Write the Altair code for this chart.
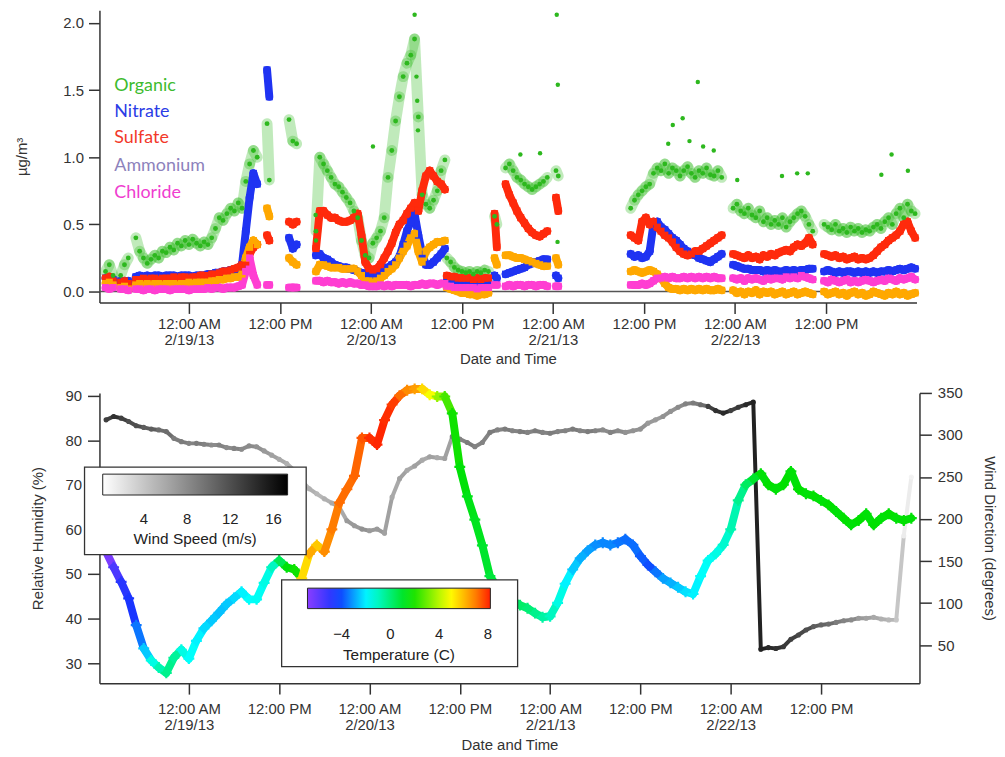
import altair as alt
import pandas as pd

BASE = pd.Timestamp("2013-02-18 00:00:00")


def to_time(hours):
    return BASE + pd.to_timedelta(pd.Series(hours, dtype=float), unit="h")


# ---------------- top panel: aerosol composition (ug/m3) ----------------
# sampling segments (hours after 2/18/13 00:00) - gaps between segments have no data
seg_start = [13.0, 15.0, 17.0, 34.3, 37.2, 40.75, 58.0, 64.3, 65.75, 72.4, 82.25, 95.75, 107.75]
seg_step = [0.5, 0.5, 0.5, 0.3, 0.5, 0.5, 0.5, 0.3, 0.5, 0.3, 0.5, 0.5, 0.5]

organic = [
    [0.15, 0.2, 0.12],
    [0.12, 0.2, 0.25],
    [0.40, 0.30, 0.25, 0.21, 0.24, 0.27, 0.25, 0.30, 0.29, 0.33, 0.31, 0.36, 0.34, 0.38, 0.35, 0.39, 0.36,
     0.34, 0.37, 0.35, 0.40, 0.47, 0.55, 0.53, 0.58, 0.62, 0.60, 0.66, 0.62, 0.82, 0.95, 1.05, 1.00],
    [1.25, 0.83],
    [1.28, 1.12, 1.10],
    [0.45, 1.0, 0.95, 0.9, 0.85, 0.8, 0.78, 0.74, 0.7, 0.66, 0.6, 0.55, 0.38, 0.27, 0.25, 0.36, 0.4, 0.45,
     0.55, 0.85, 1.05, 1.27, 1.45, 1.6, 1.7, 1.76, 1.88, 1.3, 0.72, 0.65, 0.62, 0.68, 0.75, 0.9, 0.98],
    [0.25, 0.22, 0.18, 0.16, 0.15, 0.14, 0.15, 0.13, 0.15, 0.14, 0.16, 0.15],
    [0.56, 0.5],
    [0.92, 0.95, 0.9, 0.85, 0.83, 0.8, 0.78, 0.76, 0.78, 0.8, 0.82, 0.85],
    [0.9, 0.86],
    [0.62, 0.68, 0.72, 0.75, 0.78, 0.8, 0.88, 0.92, 0.9, 0.95, 0.88, 0.92, 0.9, 0.86, 0.9, 0.93, 0.88, 0.85,
     0.9, 0.88, 0.92, 0.87, 0.86, 0.9, 0.85],
    [0.62, 0.65, 0.6, 0.58, 0.62, 0.57, 0.55, 0.6, 0.52, 0.55, 0.5, 0.53, 0.5, 0.55, 0.48, 0.52, 0.55, 0.58,
     0.6, 0.56, 0.5, 0.45],
    [0.5, 0.48, 0.46, 0.5, 0.45, 0.47, 0.44, 0.48, 0.45, 0.47, 0.44, 0.46, 0.45, 0.48, 0.5, 0.47, 0.52, 0.55,
     0.5, 0.58, 0.62, 0.55, 0.65, 0.6, 0.58],
]

nitrate = [
    [0.1, 0.1, 0.09],
    [0.08, 0.07, 0.08],
    [0.11, 0.12, 0.11, 0.12, 0.11, 0.12, 0.12, 0.11, 0.12, 0.12, 0.12, 0.11, 0.12, 0.12, 0.12, 0.11, 0.12,
     0.12, 0.12, 0.13, 0.13, 0.14, 0.14, 0.15, 0.15, 0.16, 0.16, 0.17, 0.2, 0.45, 0.7, 0.88, 0.8],
    [1.65, 1.45],
    [0.40, 0.32, 0.35],
    [0.27, 0.28, 0.25, 0.24, 0.22, 0.2, 0.19, 0.18, 0.18, 0.17, 0.16, 0.15, 0.14, 0.13, 0.12, 0.12, 0.13,
     0.14, 0.16, 0.18, 0.2, 0.22, 0.26, 0.35, 0.45, 0.52, 0.58, 0.42, 0.28, 0.2, 0.2, 0.22, 0.25, 0.28, 0.32],
    [0.08, 0.07, 0.07, 0.06, 0.06, 0.06, 0.07, 0.06, 0.06, 0.07, 0.07, 0.08],
    [0.12, 0.1],
    [0.13, 0.14, 0.15, 0.16, 0.17, 0.18, 0.2, 0.21, 0.22, 0.23, 0.24, 0.24],
    [0.12, 0.1],
    [0.28, 0.26, 0.27, 0.25, 0.26, 0.3, 0.5, 0.52, 0.48, 0.46, 0.43, 0.4, 0.38, 0.35, 0.32, 0.3, 0.28, 0.27,
     0.25, 0.24, 0.23, 0.22, 0.24, 0.26, 0.28],
    [0.2, 0.19, 0.18, 0.17, 0.17, 0.16, 0.16, 0.16, 0.15, 0.16, 0.15, 0.16, 0.15, 0.15, 0.16, 0.15, 0.16,
     0.15, 0.16, 0.16, 0.17, 0.17],
    [0.15, 0.16, 0.15, 0.14, 0.15, 0.14, 0.15, 0.15, 0.14, 0.15, 0.14, 0.15, 0.14, 0.15, 0.14, 0.15, 0.15,
     0.16, 0.15, 0.16, 0.17, 0.16, 0.17, 0.18, 0.17],
]

sulfate = [
    [0.1, 0.11, 0.08],
    [0.07, 0.08, 0.06],
    [0.09, 0.09, 0.1, 0.09, 0.1, 0.1, 0.09, 0.1, 0.1, 0.1, 0.11, 0.1, 0.11, 0.11, 0.1, 0.11, 0.11, 0.12,
     0.12, 0.12, 0.13, 0.13, 0.14, 0.15, 0.15, 0.16, 0.17, 0.18, 0.2, 0.22, 0.28, 0.33, 0.35],
    [0.42, 0.38],
    [0.52, 0.50, 0.52],
    [0.32, 0.6, 0.6, 0.57, 0.55, 0.55, 0.53, 0.52, 0.52, 0.53, 0.55, 0.58, 0.42, 0.22, 0.17, 0.16, 0.17, 0.2,
     0.25, 0.3, 0.36, 0.44, 0.5, 0.53, 0.58, 0.62, 0.66, 0.6, 0.75, 0.86, 0.9, 0.86, 0.82, 0.8, 0.76],
    [0.12, 0.11, 0.11, 0.1, 0.1, 0.1, 0.1, 0.09, 0.1, 0.09, 0.1, 0.1],
    [0.58, 0.33],
    [0.8, 0.72, 0.66, 0.6, 0.55, 0.51, 0.47, 0.44, 0.42, 0.41, 0.43, 0.45],
    [0.7, 0.6],
    [0.42, 0.4, 0.38, 0.52, 0.55, 0.5, 0.52, 0.48, 0.45, 0.42, 0.4, 0.37, 0.33, 0.3, 0.28, 0.27, 0.28, 0.3,
     0.3, 0.32, 0.34, 0.36, 0.38, 0.4, 0.42],
    [0.28, 0.27, 0.26, 0.25, 0.27, 0.25, 0.26, 0.24, 0.27, 0.26, 0.28, 0.27, 0.29, 0.3, 0.31, 0.3, 0.33,
     0.35, 0.34, 0.36, 0.4, 0.35],
    [0.28, 0.27, 0.26, 0.27, 0.25, 0.26, 0.24, 0.25, 0.26, 0.24, 0.25, 0.24, 0.25, 0.27, 0.3, 0.33, 0.35,
     0.38, 0.4, 0.42, 0.45, 0.5, 0.52, 0.45, 0.4],
]

ammonium = [
    [0.06, 0.07, 0.05],
    [0.03, 0.04, 0.02],
    [0.05, 0.06, 0.05, 0.06, 0.05, 0.06, 0.06, 0.05, 0.06, 0.06, 0.06, 0.05, 0.06, 0.06, 0.07, 0.06, 0.07,
     0.07, 0.07, 0.07, 0.08, 0.08, 0.09, 0.09, 0.1, 0.1, 0.11, 0.11, 0.13, 0.25, 0.33, 0.38, 0.35],
    [0.62, 0.56],
    [0.25, 0.22, 0.2],
    [0.15, 0.2, 0.2, 0.19, 0.18, 0.18, 0.18, 0.17, 0.17, 0.17, 0.17, 0.15, 0.12, 0.08, 0.08, 0.07, 0.08, 0.1,
     0.12, 0.15, 0.17, 0.2, 0.25, 0.3, 0.34, 0.4, 0.43, 0.3, 0.22, 0.3, 0.33, 0.35, 0.37, 0.37, 0.38],
    [0.03, 0.02, 0.01, 0.0, -0.01, -0.01, -0.02, -0.02, -0.03, -0.02, -0.02, -0.01],
    [0.25, 0.2],
    [0.27, 0.27, 0.26, 0.25, 0.25, 0.24, 0.23, 0.22, 0.21, 0.2, 0.19, 0.19],
    [0.25, 0.2],
    [0.15, 0.16, 0.15, 0.14, 0.15, 0.16, 0.15, 0.13, 0.1, 0.06, 0.03, 0.02, 0.02, 0.01, 0.02, 0.01, 0.02,
     0.01, 0.02, 0.01, 0.02, 0.01, 0.01, 0.02, 0.01],
    [0.01, -0.01, 0.0, -0.02, 0.0, -0.01, 0.01, -0.02, 0.0, -0.01, 0.0, -0.02, -0.01, 0.0, -0.02, -0.01, 0.0,
     -0.02, -0.01, 0.0, -0.01, -0.02],
    [0.0, -0.02, -0.01, 0.0, -0.02, -0.01, -0.03, -0.01, 0.0, -0.02, -0.01, -0.03, -0.02, 0.0, -0.01, -0.02,
     -0.03, -0.01, -0.02, 0.0, -0.02, -0.01, -0.03, -0.02, -0.01],
]

chloride = [
    [0.03, 0.02, 0.03],
    [0.02, 0.02, 0.01],
    [0.02, 0.02, 0.01, 0.02, 0.02, 0.01, 0.02, 0.02, 0.02, 0.01, 0.02, 0.02, 0.02, 0.02, 0.01, 0.02, 0.02,
     0.02, 0.02, 0.03, 0.02, 0.03, 0.03, 0.02, 0.03, 0.03, 0.03, 0.04, 0.05, 0.15, 0.25, 0.12, 0.05],
    [0.05, 0.05],
    [0.03, 0.03, 0.03],
    [0.08, 0.08, 0.07, 0.08, 0.07, 0.07, 0.06, 0.07, 0.06, 0.07, 0.06, 0.06, 0.05, 0.05, 0.04, 0.04, 0.04,
     0.05, 0.04, 0.05, 0.04, 0.05, 0.05, 0.05, 0.05, 0.04, 0.05, 0.05, 0.06, 0.05, 0.06, 0.06, 0.05, 0.06, 0.06],
    [0.04, 0.04, 0.03, 0.03, 0.03, 0.03, 0.03, 0.03, 0.02, 0.03, 0.03, 0.03],
    [0.05, 0.05],
    [0.04, 0.05, 0.04, 0.05, 0.05, 0.04, 0.05, 0.05, 0.04, 0.05, 0.05, 0.04],
    [0.04, 0.04],
    [0.05, 0.05, 0.05, 0.06, 0.05, 0.06, 0.08, 0.1, 0.1, 0.11, 0.1, 0.11, 0.1, 0.1, 0.11, 0.1, 0.11, 0.1,
     0.11, 0.1, 0.11, 0.1, 0.11, 0.1, 0.1],
    [0.1, 0.09, 0.1, 0.08, 0.1, 0.09, 0.1, 0.09, 0.08, 0.1, 0.09, 0.1, 0.1, 0.09, 0.11, 0.1, 0.11, 0.1, 0.12,
     0.11, 0.1, 0.09],
    [0.08, 0.07, 0.09, 0.08, 0.07, 0.08, 0.09, 0.07, 0.08, 0.07, 0.08, 0.09, 0.08, 0.07, 0.08, 0.09, 0.08,
     0.1, 0.09, 0.08, 0.1, 0.09, 0.1, 0.11, 0.09],
]

# isolated organic readings outside the main cloud
organic_extra_hours = [40.7, 40.75, 48.26, 53.76, 54.0, 54.1, 54.2, 67.7, 70.3, 72.5, 72.6, 72.64, 87.2, 87.8,
                       89.1, 90.0, 91.1, 91.8, 93.2, 96.3, 102.2, 104.2, 105.6, 115.3, 116.65, 118.8]
organic_extra = [0.57, 0.38, 1.08, 2.06, 1.6, 1.42, 1.2, 1.02, 1.03, 2.06, 0.37, 1.54, 1.1, 1.24, 1.29, 1.12,
                 1.56, 1.08, 1.05, 0.83, 0.86, 0.88, 0.88, 0.87, 1.02, 0.9]

species_names = ["Organic", "Nitrate", "Sulfate", "Ammonium", "Chloride"]
point_colors = ["#2db81e", "#1f33f2", "#ff2a0c", "#ffa800", "#ff3ed2"]
label_colors = ["#3dbb2e", "#2b3ce6", "#f2392a", "#8d82bc", "#ef3dcf"]

# ---------------- bottom panel: meteorology (hourly) ----------------
met_hours = list(range(13, 121))
rel_humidity = [
    55, 51.5, 48.2, 44.5, 38.5, 33.3, 30.6, 29, 27.8, 31.2,
    33, 31, 35, 37.8, 39.5, 41.3, 43.2, 44.6, 46, 44.3,
    44.3, 48, 51.5, 53, 51.5, 51, 49, 54.5, 56.5, 55,
    60, 66, 69, 72, 80.5, 80.5, 79, 84.5, 88, 90,
    91.2, 91.5, 91.5, 90.2, 89.8, 89.8, 86, 74, 67.4, 62.2,
    56.4, 49.5, 47, 45.5, 44, 43, 42.3, 41.2, 40.3, 40.5,
    43.5, 47.8, 51, 53.5, 55.2, 56.5, 57, 56.5, 57, 57.8,
    56.5, 54, 52, 50.5, 49, 48, 47, 46, 45.5, 49.5,
    53, 54.5, 56.5, 60, 66.5, 70, 71.3, 72.5, 70, 69,
    70, 73, 69, 68, 67.5, 66.5, 65.5, 64, 62.5, 61,
    62, 63.5, 61, 62.5, 63.5, 62.5, 62, 62.5,
]
temperature = [
    -6.5, -5.5, -4.8, -4.5, -3.5, -2.5, -1.5, -0.8, -0.3, -0.5,
    -1.5, -1.8, -2.0, -2.3, -2.5, -2.6, -2.5, -2.3, -2.0, -1.8,
    -1.7, -1.5, -1.0, 0.5, 1.5, 1.8, 5.5, 6.3, 5.8, 6.8,
    7.0, 7.2, 7.2, 7.3, 7.5, 8.0, 8.1, 8.0, 7.8, 7.2,
    6.8, 6.5, 5.5, 4.8, 3.5, 2.5, 1.8, 1.5, 1.3, 1.2,
    1.0, 0.8, 0.5, 0.3, 0.2, 0.2, 0.0, -0.3, -0.6, -1.0,
    -1.5, -2.0, -2.5, -2.8, -3.0, -3.2, -3.3, -3.3, -3.5, -3.6,
    -3.6, -3.8, -4.0, -3.5, -3.0, -2.8, -2.5, -2.2, -2.0, -1.8,
    -1.7, -1.5, -1.2, -0.8, -0.3, 0.3, 1.0, 1.5, 1.6, 1.5,
    1.6, 1.5, 1.6, 1.5, 1.6, 1.5, 1.6, 1.5, 1.6, 1.5,
    1.6, 1.5, 1.6, 1.5, 1.6, 1.5, 1.6, 1.5,
]
wind_direction = [
    318, 322, 320, 316, 311, 309, 307, 306, 304, 296,
    292, 290, 290, 289, 288, 288, 285, 284, 283, 287,
    286, 281, 276, 271, 266, 258, 245, 236, 230, 224,
    219, 214, 198, 192, 188, 186, 188, 183, 226, 248,
    258, 263, 270, 274, 273, 272, 298, 295, 291, 286,
    291, 303, 306, 307, 305, 304, 303, 305, 303, 302,
    304, 305, 307, 305, 304, 305, 306, 303, 305, 303,
    305, 307, 314, 318, 322, 328, 333, 337, 338, 336,
    334, 329, 326, 329, 333, 336, 339, 45, 47, 46,
    48, 57, 62, 68, 72, 74, 75, 77, 79, 80,
    82, 82, 83, 81, 80, 80, 180, 250,
]
wind_speed = [
    13, 14, 13, 12, 12, 11, 11, 10, 10, 9,
    9, 8.5, 9, 8.5, 8, 8.5, 8, 8.5, 8, 8,
    7.5, 7, 6.5, 6, 5.5, 5, 5, 5.5, 5, 5.5,
    6, 6, 7, 7, 7.5, 7, 7, 6.5, 6, 6.5,
    6, 6.5, 6, 6.5, 6, 6.5, 9, 8.5, 9, 8.5,
    8.5, 9, 8.5, 9, 8.5, 9, 8.5, 9, 8.5, 9,
    8.5, 8.5, 9, 8.5, 9, 8.5, 8, 8.5, 8, 7.5,
    7.5, 7.5, 7, 7, 7.5, 7.5, 8, 8.5, 9, 10,
    13, 14, 14.5, 13, 13.5, 14.5, 15, 15, 14.5, 14,
    13.5, 13, 12.5, 12, 11, 10.5, 10, 9, 8.5, 8,
    7, 6.5, 6, 5.5, 5, 4, 1.5, 1,
]

# ---------------- build tables ----------------
seg_id, seg_hours = [], []
for s, (t0, step) in enumerate(zip(seg_start, seg_step)):
    for k in range(len(organic[s])):
        seg_id.append(s)
        seg_hours.append(t0 + k * step)
grid = pd.DataFrame({"seg": seg_id, "time": to_time(seg_hours)})


def flat(lists):
    return [v for sub in lists for v in sub]


def with_next(d):
    d = d.copy()
    d["time2"] = d.groupby("seg")["time"].shift(-1)
    d["value2"] = d.groupby("seg")["value"].shift(-1)
    return d


band_frames = []
for name, vals in [("Nitrate", nitrate), ("Sulfate", sulfate), ("Ammonium", ammonium), ("Chloride", chloride)]:
    d = grid.copy()
    d["value"] = flat(vals)
    d["species"] = name
    band_frames.append(with_next(d))
bands = pd.concat(band_frames, ignore_index=True)
band_segments = bands.dropna(subset=["value2"]).copy()
bands = bands.drop(columns=["time2", "value2"])

org_df = grid.copy()
org_df["value"] = flat(organic)
org_segments = with_next(org_df).dropna(subset=["value2"]).copy()
org_extra_df = pd.DataFrame({"time": to_time(organic_extra_hours), "value": organic_extra})

met = pd.DataFrame({"time": to_time(met_hours), "rh": rel_humidity, "temp": temperature,
                    "wd": wind_direction, "ws": wind_speed})
met["time2"] = met["time"].shift(-1)
met["rh2"] = met["rh"].shift(-1)
met["wd2"] = met["wd"].shift(-1)
met_segments = met.dropna(subset=["rh2"]).copy()
met_points = met.drop(columns=["time2", "rh2", "wd2"])

# ---------------- shared axis pieces ----------------
FONT = "Liberation Sans"
INK = "#333333"
tick_values = [alt.DateTime(year=2013, month=2, date=d, hours=h) for d in (19, 20, 21, 22) for h in (0, 12)]
label_expr = ("hours(datum.value) == 0 ? ['12:00 AM', timeFormat(datum.value, '%-m/%-d/%y')] "
              ": '12:00 PM'")


def time_axis(label_pad, title_pad):
    return alt.Axis(values=tick_values, labelExpr=label_expr, title="Date and Time", tickSize=11,
                    labelPadding=label_pad, labelLineHeight=16, titlePadding=title_pad, labelOverlap=False,
                    labelFlush=False, grid=False)


# ---------------- top chart ----------------
x_top_scale = alt.Scale(domain=[alt.DateTime(year=2013, month=2, date=18, hours=12, minutes=12),
                                alt.DateTime(year=2013, month=2, date=22, hours=23, minutes=56)], nice=False)
y_top_scale = alt.Scale(domain=[-0.081, 2.094], nice=False, zero=False)
y_top_axis = alt.Axis(values=[0, 0.5, 1.0, 1.5, 2.0], format=".1f", title="µg/m³", tickSize=11,
                      labelPadding=5, titlePadding=34, grid=False)
x_top = alt.X("time:T", scale=x_top_scale, axis=time_axis(3, 4))
y_top = alt.Y("value:Q", scale=y_top_scale, axis=y_top_axis)
species_color = alt.Color("species:N", scale=alt.Scale(domain=species_names, range=point_colors), legend=None)

zero_line = alt.Chart(pd.DataFrame({"value": [0.0]})).mark_rule(color="#555555", strokeWidth=1.5).encode(
    y=y_top)
band_lines = alt.Chart(band_segments).mark_rule(strokeWidth=8, strokeCap="round").encode(
    x=x_top, x2=alt.X2("time2"), y=y_top, y2=alt.Y2("value2"), color=species_color)
band_dots = alt.Chart(bands).mark_square(size=50, opacity=1).encode(x=x_top, y=y_top, color=species_color)
org_lines = alt.Chart(org_segments).mark_rule(strokeWidth=11, strokeCap="round", opacity=0.3,
                                              color=point_colors[0]).encode(
    x=x_top, x2=alt.X2("time2"), y=y_top, y2=alt.Y2("value2"))
org_dots = alt.Chart(org_df).mark_circle(size=24, opacity=1, color=point_colors[0]).encode(x=x_top, y=y_top)
org_extra_dots = alt.Chart(org_extra_df).mark_circle(size=20, opacity=1, color=point_colors[0]).encode(
    x=x_top, y=y_top)

legend_baselines = [81, 107, 133.7, 162, 188.7]
legend_texts = [
    alt.Chart(pd.DataFrame({"label": [name]})).mark_text(
        align="left", baseline="alphabetic", font="Lato", fontSize=18, color=col
    ).encode(x=alt.value(15), y=alt.value(yb), text="label:N")
    for name, col, yb in zip(species_names, label_colors, legend_baselines)
]

top = alt.layer(zero_line, org_lines, band_lines, band_dots, org_dots, org_extra_dots, *legend_texts).properties(
    width=822, height=294)

# ---------------- bottom chart ----------------
x_bot_scale = alt.Scale(domain=[alt.DateTime(year=2013, month=2, date=18, hours=12, minutes=7),
                                alt.DateTime(year=2013, month=2, date=23, hours=1, minutes=5)], nice=False)
x_bot = alt.X("time:T", scale=x_bot_scale, axis=time_axis(8, 5))
rh_scale = alt.Scale(domain=[25.5, 90.6], nice=False, zero=False)
wd_scale = alt.Scale(domain=[4.7, 350], nice=False, zero=False)
rh_axis = alt.Axis(orient="left", values=[30, 40, 50, 60, 70, 80, 90], title="Relative Humidity (%)",
                   tickSize=12, labelPadding=6, titlePadding=20, grid=False)
wd_axis = alt.Axis(orient="right", values=[50, 100, 150, 200, 250, 300, 350],
                   title="Wind Direction (degrees)", tickSize=12, labelPadding=6, titlePadding=19, grid=False)

temp_scale = alt.Scale(domain=[-6.8, -4.3, -1.85, 1.6, 4.9, 6.8, 8.2],
                       range=["#8a3dff", "#1034ff", "#00ffff", "#00e000", "#ffff00", "#ff8c00", "#ff1e00"],
                       interpolate="rgb")
ws_scale = alt.Scale(domain=[0.2, 17.3], range=["#ffffff", "#000000"], interpolate="rgb")

legend_common = dict(type="gradient", orient="none", direction="horizontal", titleOrient="bottom",
                     titleAnchor="middle", padding=0, labelFontSize=15, titleFontSize=15.5,
                     titleFontWeight="normal", labelFont=FONT, titleFont=FONT, labelColor="#222222",
                     titleColor="#222222", gradientStrokeColor="#222222", gradientStrokeWidth=1)
ws_legend = alt.Legend(legendX=3.3, legendY=81.7, gradientLength=186, gradientThickness=21,
                       values=[4, 8, 12, 16], title="Wind Speed (m/s)", labelOffset=17, titlePadding=5,
                       **legend_common)
temp_legend = alt.Legend(legendX=209.3, legendY=196.4, gradientLength=184, gradientThickness=20.6,
                         values=[-4, 0, 4, 8], title="Temperature (C)", labelOffset=19, titlePadding=5,
                         **legend_common)

ws_color = alt.Color("ws:Q", scale=ws_scale, legend=ws_legend)
temp_color = alt.Color("temp:Q", scale=temp_scale, legend=temp_legend)

# all meteorological marks are stroked so each colour scale feeds one gradient legend
PLUS = "M-1,0H1M0,-1V1"
wd_lines = alt.Chart(met_segments).mark_rule(strokeWidth=4, opacity=1, strokeCap="round").encode(
    x=x_bot, x2=alt.X2("time2"), y=alt.Y("wd:Q", scale=wd_scale, axis=wd_axis), y2=alt.Y2("wd2"),
    color=ws_color)
wd_dots = alt.Chart(met_points).mark_point(shape="circle", filled=False, size=10, strokeWidth=2,
                                           opacity=1).encode(
    x=x_bot, y=alt.Y("wd:Q", scale=wd_scale, axis=wd_axis), color=ws_color)
rh_lines = alt.Chart(met_segments).mark_rule(strokeWidth=8, strokeCap="round", opacity=1).encode(
    x=x_bot, x2=alt.X2("time2"), y=alt.Y("rh:Q", scale=rh_scale, axis=rh_axis), y2=alt.Y2("rh2"),
    color=temp_color)
rh_crosses = alt.Chart(met_points).mark_point(shape=PLUS, filled=False, size=120, strokeWidth=2.2,
                                              opacity=1).encode(
    x=x_bot, y=alt.Y("rh:Q", scale=rh_scale, axis=rh_axis), color=temp_color)

one = pd.DataFrame({"k": [0]})
ws_box = alt.Chart(one).mark_rect(fill="white", stroke="#333333", strokeWidth=1.3).encode(
    x=alt.value(-15), x2=alt.value(208), y=alt.value(74.7), y2=alt.value(162.7))
temp_box = alt.Chart(one).mark_rect(fill="white", stroke="#333333", strokeWidth=1.3).encode(
    x=alt.value(183.3), x2=alt.value(420.7), y=alt.value(188), y2=alt.value(275.4))

bottom = alt.layer(
    alt.layer(wd_lines, wd_dots),
    alt.layer(rh_lines, rh_crosses),
    ws_box, temp_box,
).resolve_scale(y="independent", color="independent").properties(width=825, height=292)

chart = alt.vconcat(top, bottom, spacing=91, bounds="flush").properties(
    padding={"left": 6, "top": 0, "right": 0, "bottom": 0}
).configure(font=FONT).configure_view(stroke=None).configure_axis(
    labelFont=FONT, titleFont=FONT, labelFontSize=15, titleFontSize=15, titleFontWeight="normal",
    labelColor=INK, titleColor=INK, domainColor=INK, tickColor=INK, domainWidth=1.5, tickWidth=1.5,
)

chart.save("out.html", embed_options={"renderer": "svg", "actions": False})
